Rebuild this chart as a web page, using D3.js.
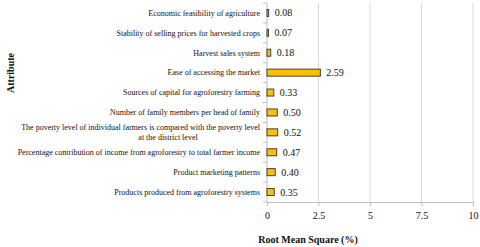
<!DOCTYPE html>
<html>
<head>
<meta charset="utf-8">
<script src="https://cdn.jsdelivr.net/npm/d3@7"></script>
<style>
  body { margin: 0; background: #fff; }
  svg text { font-family: "Liberation Serif", "Times New Roman", Times, "DejaVu Serif", serif !important; fill: #111; }
</style>
</head>
<body>
<div id="chart"></div>
<script>
// chart data, top row first
const attributes = [
  "Economic feasibility of agriculture",
  "Stability of selling prices for harvested crops",
  "Harvest sales system",
  "Ease of accessing the market",
  "Sources of capital for agroforestry farming",
  "Number of family members per head of family",
  "The poverty level of individual farmers is compared with the poverty level|at the district level",
  "Percentage contribution of income from agroforestry to total farmer income",
  "Product marketing patterns",
  "Products produced from agroforestry systems"
];
const rms = [0.08, 0.07, 0.18, 2.59, 0.33, 0.50, 0.52, 0.47, 0.40, 0.35];
const xTicks = [0, 2.5, 5, 7.5, 10];

const w = 480, h = 247;
const margin = { top: 3, right: 7, bottom: 45, left: 267 };
const serif = "'Liberation Serif', 'Times New Roman', Times, serif";

const svg = d3.select("#chart").append("svg")
  .attr("width", w)
  .attr("height", h)
  .attr("font-family", serif);

const x = d3.scaleLinear()
  .domain([0, 10])
  .range([margin.left, w - margin.right]);

const y = d3.scaleBand()
  .domain(d3.range(attributes.length))
  .range([margin.top, h - margin.bottom]);

// vertical gridlines
svg.append("g")
  .selectAll("line")
  .data(xTicks.filter(d => d > 0))
  .enter()
  .append("line")
  .attr("x1", d => x(d)).attr("x2", d => x(d))
  .attr("y1", margin.top).attr("y2", h - margin.bottom)
  .attr("stroke", "#d9d9d9")
  .attr("stroke-width", 1);

// x axis
const xAxis = svg.append("g")
  .attr("transform", `translate(0,${h - margin.bottom})`)
  .call(d3.axisBottom(x).tickValues(xTicks).tickFormat(d => d).tickSize(4).tickPadding(6));
xAxis.attr("font-family", serif);
xAxis.select(".domain").attr("stroke", "#bfbfbf");
xAxis.selectAll(".tick line").attr("stroke", "#bfbfbf");
xAxis.selectAll("text").attr("font-size", 10).style("font-family", serif).attr("fill", "#111");

// y axis line + ticks at band boundaries
svg.append("line")
  .attr("x1", margin.left).attr("x2", margin.left)
  .attr("y1", margin.top).attr("y2", h - margin.bottom)
  .attr("stroke", "#bfbfbf");
svg.append("g")
  .selectAll("line")
  .data(d3.range(attributes.length + 1))
  .enter()
  .append("line")
  .attr("x1", margin.left - 4).attr("x2", margin.left)
  .attr("y1", i => margin.top + i * y.step())
  .attr("y2", i => margin.top + i * y.step())
  .attr("stroke", "#bfbfbf");

// category labels
const labels = svg.append("g")
  .selectAll("text")
  .data(attributes)
  .enter()
  .append("text")
  .attr("font-size", 8)
  .style("font-family", serif)
  .attr("text-anchor", "end")
  .attr("y", (d, i) => y(i) + y.bandwidth() / 2);
labels.each(function(d) {
  const parts = d.split("|");
  const t = d3.select(this);
  if (parts.length === 1) {
    t.append("tspan").attr("x", 260).attr("dy", "0.35em").text(d);
  } else {
    t.append("tspan").attr("x", 260).attr("dy", "-0.25em").text(parts[0]);
    t.append("tspan").attr("x", 168).attr("dy", "1.15em").attr("text-anchor", "middle").text(parts[1]);
  }
});

// bars
const barH = 7;
svg.append("g")
  .selectAll("rect")
  .data(rms)
  .enter()
  .append("rect")
  .attr("x", x(0))
  .attr("y", (d, i) => y(i) + y.bandwidth() / 2 - barH / 2)
  .attr("width", d => x(d) - x(0))
  .attr("height", barH)
  .attr("fill", "#ffc000")
  .attr("stroke", "#404040")
  .attr("stroke-width", 1);

// value labels
svg.append("g")
  .selectAll("text")
  .data(rms)
  .enter()
  .append("text")
  .attr("x", d => x(d) + 6)
  .attr("y", (d, i) => y(i) + y.bandwidth() / 2)
  .attr("dy", "0.35em")
  .attr("font-size", 10)
  .style("font-family", serif)
  .text(d => d.toFixed(2));

// axis titles
svg.append("text")
  .attr("x", 308)
  .attr("y", 243)
  .attr("text-anchor", "middle")
  .attr("font-size", 10)
  .attr("font-weight", "bold")
  .style("font-family", serif)
  .text("Root Mean Square (%)");

svg.append("text")
  .attr("transform", "translate(14,73) rotate(-90)")
  .attr("text-anchor", "middle")
  .attr("font-size", 10)
  .attr("font-weight", "bold")
  .style("font-family", serif)
  .text("Attribute");
</script>
</body>
</html>
